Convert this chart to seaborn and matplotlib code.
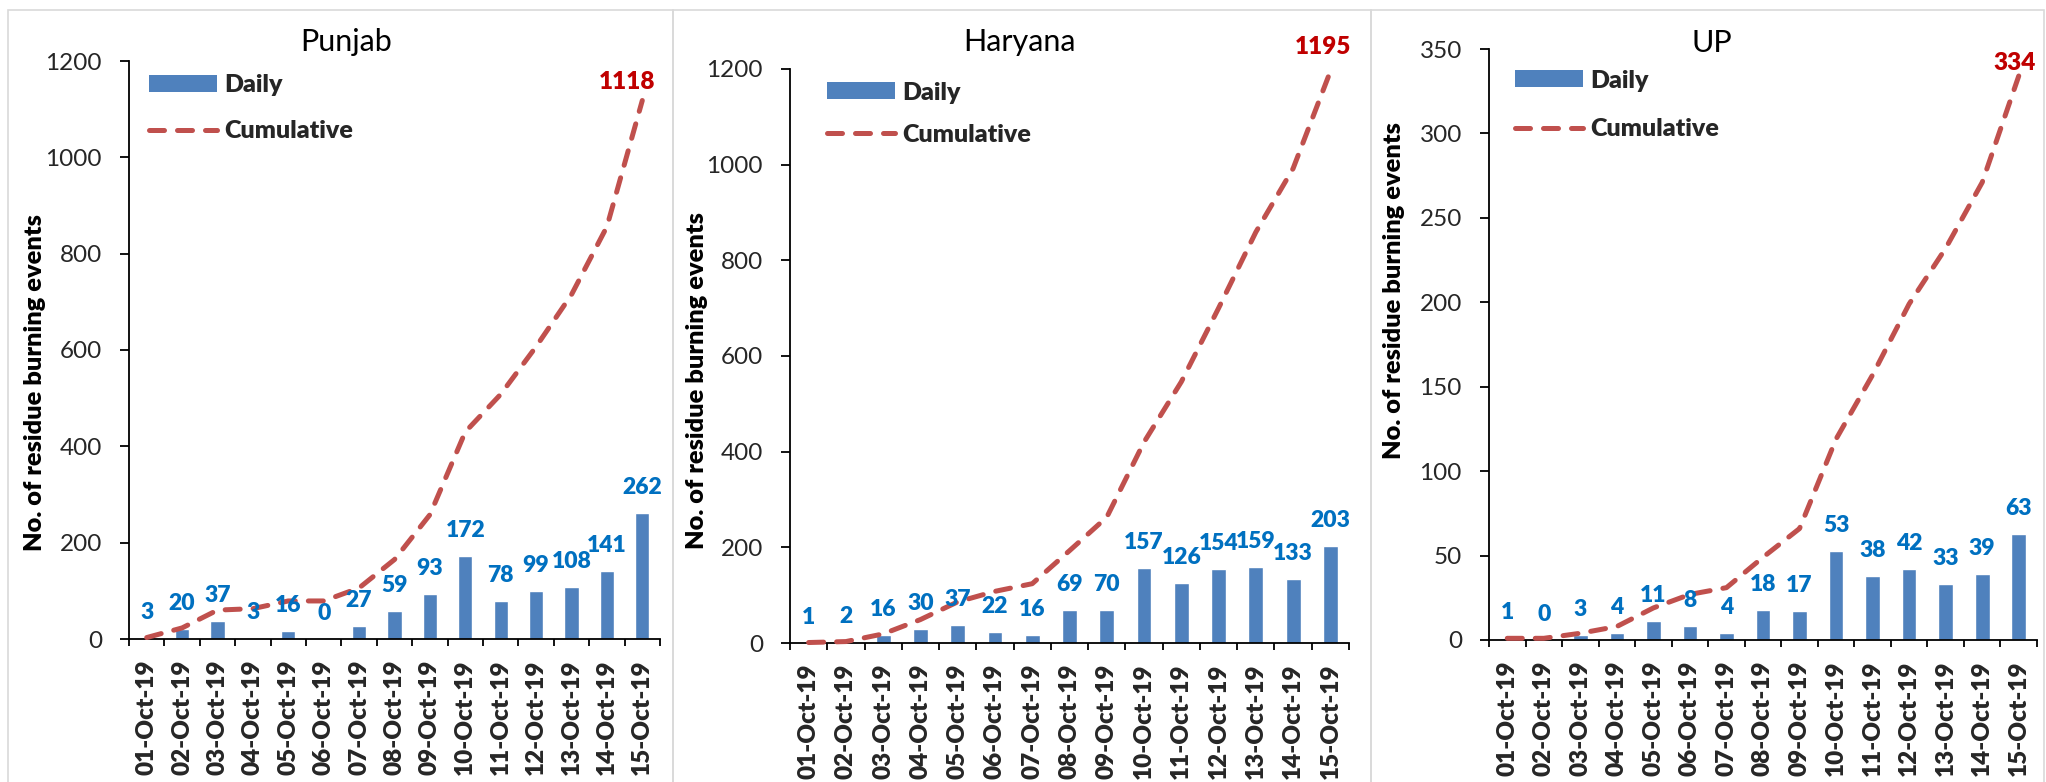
import numpy as np
import matplotlib
matplotlib.use("Agg")
import matplotlib.pyplot as plt
import seaborn as sns
from matplotlib.patches import Patch, Rectangle
from matplotlib.lines import Line2D

# ---------------- data ----------------
dates = ["01-Oct-19", "02-Oct-19", "03-Oct-19", "04-Oct-19", "05-Oct-19",
         "06-Oct-19", "07-Oct-19", "08-Oct-19", "09-Oct-19", "10-Oct-19",
         "11-Oct-19", "12-Oct-19", "13-Oct-19", "14-Oct-19", "15-Oct-19"]
states = ["Punjab", "Haryana", "UP"]

punjab_daily = [3, 20, 37, 3, 16, 0, 27, 59, 93, 172, 78, 99, 108, 141, 262]
punjab_cum = [3, 23, 60, 63, 79, 79, 106, 165, 258, 430, 508, 607, 715, 856, 1118]
haryana_daily = [1, 2, 16, 30, 37, 22, 16, 69, 70, 157, 126, 154, 159, 133, 203]
haryana_cum = [1, 3, 19, 49, 86, 108, 124, 193, 263, 420, 546, 700, 859, 992, 1195]
up_daily = [1, 0, 3, 4, 11, 8, 4, 18, 17, 53, 38, 42, 33, 39, 63]
up_cum = [1, 1, 4, 8, 19, 27, 31, 49, 66, 119, 157, 199, 232, 271, 334]

y_max = [1200, 1200, 350]
y_step = [200, 200, 50]

daily_all = [punjab_daily, haryana_daily, up_daily]
cum_all = [punjab_cum, haryana_cum, up_cum]

# ---------------- style ----------------
BAR = "#4F81BD"
LINE = "#C0504D"
BLUE_TXT = "#0070C0"
RED_TXT = "#C00000"
BORDER = "#D9D9D9"
FONT = "Lato"
BOLD = "heavy"

sns.set_style("white")
plt.rcParams["font.family"] = [FONT, "DejaVu Sans"]

W, H = 2046, 782
fig = plt.figure(figsize=(W / 100, H / 100), dpi=100)

# layout in pixels (x0, x1, y_top, y_bottom)
panel_px = [(129, 660, 61, 639), (790, 1349, 69, 643), (1489, 2037, 49, 640)]
chart_area_px = [(8, 673), (673, 1371), (1371, 2044)]
title_px = [(346, 51.5), (1019, 51.5), (1712, 51.5)]
ylabel_px = [(35, 383), (697, 381), (1394, 291)]
legend_px = [(149, 74.5), (827, 81.5), (1515, 69.5)]
legend_ls = [0.96, 0.80, 1.08]
endlab_px = [(-15, 16.5), (-7, 22.5), (-4, 11.5)]

PX2PT = 72 / 100.0

# chart-area borders
for x0, x1 in chart_area_px:
    fig.add_artist(Rectangle((x0 / W, -0.05), (x1 - x0) / W, (H - 10) / H + 0.05,
                             transform=fig.transFigure, fill=False,
                             edgecolor=BORDER, lw=1.2, zorder=0))

n = len(dates)
xpos = np.arange(n)

for k, state in enumerate(states):
    x0, x1, yt, yb = panel_px[k]
    ax = fig.add_axes([x0 / W, (H - yb) / H, (x1 - x0) / W, (yb - yt) / H])
    ax.set_facecolor("none")
    daily = daily_all[k]
    cum = cum_all[k]

    sns.barplot(x=dates, y=daily, color=BAR, width=0.4, saturation=1,
                ax=ax, zorder=2)
    sns.lineplot(x=xpos, y=cum, ax=ax, color=LINE, lw=3.6,
                 linestyle=(0, (3, 2.6)), dash_capstyle="round",
                 legend=False, zorder=3, clip_on=False)

    ax.set_xlim(-0.5, n - 0.5)
    ax.set_ylim(0, y_max[k])
    ax.set_yticks(np.arange(0, y_max[k] + 1, y_step[k]))
    ax.set_xlabel("")

    # category axis: ticks between categories, labels at centres
    ax.set_xticks(np.arange(-0.5, n, 1.0))
    ax.set_xticklabels([])
    ax.set_xticks(xpos, labels=dates, minor=True)
    ax.tick_params(axis="x", which="major", direction="out", length=5,
                   width=1.3, color="black", bottom=True)
    ax.tick_params(axis="x", which="minor", length=0, pad=14.5,
                   labelsize=17.5, labelrotation=90, bottom=True)
    for lab in ax.get_xticklabels(minor=True):
        lab.set_fontweight(BOLD)
    ax.tick_params(axis="y", direction="out", length=6.5, width=1.3,
                   color="black", pad=13, labelsize=17.5, left=True)

    for side in ["top", "right"]:
        ax.spines[side].set_visible(False)
    for side in ["left", "bottom"]:
        ax.spines[side].set_color("black")
        ax.spines[side].set_linewidth(1.3)
    ax.grid(False)

    # title
    tx, tby = title_px[k]
    ax.set_title(state, x=(tx - x0) / (x1 - x0), y=(yb - tby) / (yb - yt),
                 va="baseline", ha="center", pad=0, fontsize=22, color="black")

    # y label
    lx, ly = ylabel_px[k]
    ax.set_ylabel("No. of residue burning events", fontsize=18.3,
                  fontweight=BOLD, color="black")
    ax.yaxis.set_label_coords((lx - x0) / (x1 - x0), (yb - ly) / (yb - yt))
    ax.yaxis.label.set_va("center")

    # data labels on bars
    for i, v in enumerate(daily):
        ax.annotate(str(v), (i, v), xytext=(0, 25.5 * PX2PT),
                    textcoords="offset points", ha="center", va="center",
                    color=BLUE_TXT, fontsize=16.5, fontweight=BOLD,
                    zorder=5, annotation_clip=False)

    # end label of cumulative
    dx, dy = endlab_px[k]
    ax.annotate(str(cum[-1]), (n - 1, cum[-1]),
                xytext=(dx * PX2PT, (dy + 2) * PX2PT), textcoords="offset points",
                ha="center", va="center", color=RED_TXT, fontsize=17.5,
                fontweight=BOLD, zorder=5, annotation_clip=False)

    # legend
    handles = [Patch(facecolor=BAR, edgecolor="none", label="Daily"),
               Line2D([], [], color=LINE, lw=3.6, linestyle=(0, (3, 2.6)),
                      dash_capstyle="round", label="Cumulative")]
    gx, gy = legend_px[k]
    ax.legend(handles=handles, loc="upper left",
              bbox_to_anchor=(gx / W, (H - gy) / H),
              bbox_transform=fig.transFigure, frameon=False, borderpad=0,
              borderaxespad=0, handlelength=2.72, handleheight=0.68,
              handletextpad=0.3, labelspacing=legend_ls[k],
              prop={"family": FONT, "weight": BOLD, "size": 18})

fig.savefig("out.png", dpi=100)
